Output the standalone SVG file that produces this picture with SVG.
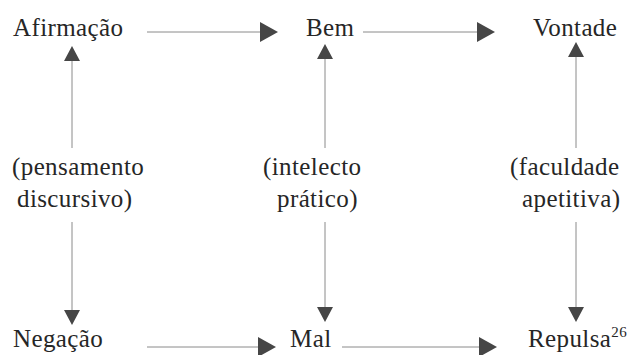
<svg xmlns="http://www.w3.org/2000/svg" width="629" height="355" viewBox="0 0 629 355">
<style>
.t{fill:#262626}
.ln{stroke:#8a8a8a;stroke-width:1;fill:none}
.ah{fill:#464646}
</style>
<rect width="629" height="355" fill="#fff"/>
<g id="connectors">
<line class="ln" x1="147" y1="32" x2="262" y2="32"/>
<polygon class="ah" points="260,22 278,32 260,42"/>
<line class="ln" x1="363" y1="32" x2="479" y2="32"/>
<polygon class="ah" points="477,22 495,32 477,42"/>
<line class="ln" x1="147" y1="347" x2="260" y2="347"/>
<polygon class="ah" points="258,337 276,347 258,357"/>
<line class="ln" x1="342" y1="347" x2="481" y2="347"/>
<polygon class="ah" points="479,337 497,347 479,357"/>
<line class="ln" x1="72" y1="60" x2="72" y2="148"/>
<polygon class="ah" points="64,61 72,46 80,61"/>
<line class="ln" x1="72" y1="222" x2="72" y2="312"/>
<polygon class="ah" points="64,310 72,325 80,310"/>
<line class="ln" x1="325" y1="58" x2="325" y2="148"/>
<polygon class="ah" points="317,59 325,44 333,59"/>
<line class="ln" x1="325" y1="222" x2="325" y2="309"/>
<polygon class="ah" points="317,307 325,322 333,307"/>
<line class="ln" x1="576" y1="56" x2="576" y2="148"/>
<polygon class="ah" points="568,57 576,42 584,57"/>
<line class="ln" x1="576" y1="222" x2="576" y2="309"/>
<polygon class="ah" points="568,307 576,322 584,307"/>
</g>
<g id="afirmacao"><text class="t" font-family="Liberation Serif" font-size="25" letter-spacing="0.4" x="13" y="36">Afirmação</text></g>
<g id="bem"><text class="t" font-family="Liberation Serif" font-size="25" letter-spacing="0.4" x="306" y="36">Bem</text></g>
<g id="vontade"><text class="t" font-family="Liberation Serif" font-size="25" letter-spacing="0.4" x="533" y="36">Vontade</text></g>
<g id="pensamento"><text class="t" font-family="Liberation Serif" font-size="25" letter-spacing="0.4" x="12" y="175">(pensamento</text><text class="t" font-family="Liberation Serif" font-size="25" letter-spacing="0.4" x="17" y="207">discursivo)</text></g>
<g id="intelecto"><text class="t" font-family="Liberation Serif" font-size="25" letter-spacing="0.4" x="263" y="175">(intelecto</text><text class="t" font-family="Liberation Serif" font-size="25" letter-spacing="0.4" x="277" y="207">prático)</text></g>
<g id="faculdade"><text class="t" font-family="Liberation Serif" font-size="25" letter-spacing="0.4" x="510" y="175">(faculdade</text><text class="t" font-family="Liberation Serif" font-size="25" letter-spacing="0.4" x="522" y="207">apetitiva)</text></g>
<g id="negacao"><text class="t" font-family="Liberation Serif" font-size="25" letter-spacing="0.4" x="13" y="347">Negação</text></g>
<g id="mal"><text class="t" font-family="Liberation Serif" font-size="25" letter-spacing="0.4" x="290" y="347">Mal</text></g>
<g id="repulsa"><text class="t" font-family="Liberation Serif" font-size="25" letter-spacing="0.4" x="528" y="347">Repulsa<tspan font-size="15" dy="-10">26</tspan></text></g>
</svg>
